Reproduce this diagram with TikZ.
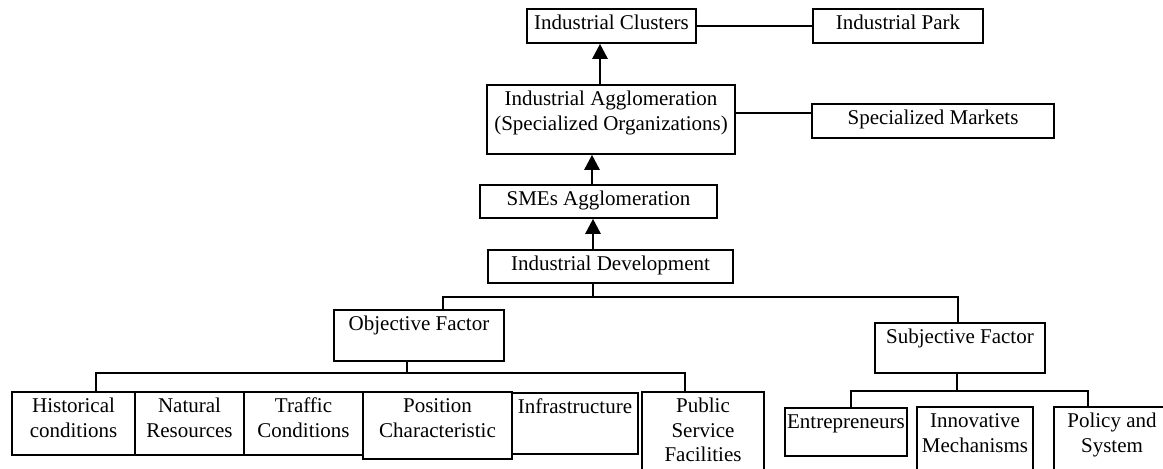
\documentclass[tikz,border=0pt]{standalone}
\usepackage{fontspec}
\setmainfont{Liberation Serif}
\usetikzlibrary{arrows.meta}
\newcommand{\boxfont}{\fontsize{10.5}{12.25}\selectfont}

\begin{document}
\begin{tikzpicture}[x=0.5pt, y=-0.5pt,
    box/.style={draw, line width=0.9pt, anchor=north, inner sep=0pt, align=center,
                font=\boxfont, text height=10.5pt},
    twoline/.style={text height=22.75pt},
    threeline/.style={text height=35pt},
    link/.style={line width=0.75pt},
    up/.style={line width=1.3pt, -{Triangle[width=7.5pt,length=7.5pt]}}]

	\useasboundingbox (0,0) rectangle (1163,468);
	\clip (0,0) rectangle (1163,468);

	% upper chain
	\node[box, minimum width=84.5pt, text depth=6.5pt] (clusters) at (611.5,8) {Industrial Clusters};
	\node[box, minimum width=85pt, text depth=6.5pt] (park) at (898,8) {Industrial Park};
	\node[box, twoline, minimum width=124pt, text depth=11.75pt] (agglom) at (611,84) {Industrial Agglomeration\\(Specialized Organizations)};
	\node[box, minimum width=121pt, text depth=6.5pt] (markets) at (933,103) {Specialized Markets};
	\node[box, minimum width=118.5pt, text depth=6pt] (smes) at (598.5,184) {SMEs Agglomeration};
	\node[box, minimum width=122.5pt, text depth=6pt] (develop) at (610.5,249) {Industrial Development};

	% factors
	\node[box, minimum width=85pt, text depth=15pt] (objective) at (419,309) {Objective Factor};
	\node[box, minimum width=85pt, text depth=14.5pt] (subjective) at (960,322) {Subjective Factor};

	\node[box, twoline, minimum width=61.5pt, text depth=8.75pt] (historical) at (73.5,391) {Historical\\conditions};
	\node[box, twoline, minimum width=54.5pt, text depth=8.75pt] (natural) at (189.5,391) {Natural\\Resources};
	\node[box, twoline, minimum width=59.5pt, text depth=8.75pt] (traffic) at (303.5,391) {Traffic\\Conditions};
	\node[box, twoline, minimum width=74.5pt, text depth=10.75pt] (position) at (437.5,391) {Position\\Characteristic};
	\node[box, minimum width=63pt, text depth=20pt] (infra) at (575,392) {Infrastructure};
	\node[box, threeline, minimum width=61pt, text depth=30pt] (public) at (703,391) {Public\\Service\\Facilities};

	\node[box, minimum width=61pt, text depth=13.5pt] (entre) at (846,407) {Entrepreneurs};
	\node[box, twoline, minimum width=58pt, text depth=40pt] (innov) at (975,406) {Innovative\\Mechanisms};
	\node[box, twoline, minimum width=58pt, text depth=40pt] (policy) at (1112,406) {Policy and\\System};

	% arrows and lines
	\draw[up] (593,0 |- develop.north) -- (593,0 |- smes.south);
	\draw[up] (592,0 |- smes.north) -- (592,0 |- agglom.south);
	\draw[up] (600,0 |- agglom.north) -- (600,0 |- clusters.south);
	\draw[link] (clusters.east) -- (park.west);
	\draw[link] (agglom.east |- 0,113) -- (markets.west |- 0,113);

	\coordinate (split1) at (593,297);
	\coordinate (split2) at (407,373);
	\coordinate (split3) at (957,391);

	\draw[link] (split1 |- develop.south) -- (split1);
	\draw[link] (443,0 |- objective.north) |- (split1) -| (958,0 |- subjective.north);

	\draw[link] (split2 |- objective.south) -- (split2);
	\draw[link] (96,0 |- historical.north) |- (split2) -| (685,0 |- public.north);

	\draw[link] (split3 |- subjective.south) -- (split3);
	\draw[link] (851,0 |- entre.north) |- (split3) -| (1088,0 |- policy.north);
\end{tikzpicture}
\end{document}
